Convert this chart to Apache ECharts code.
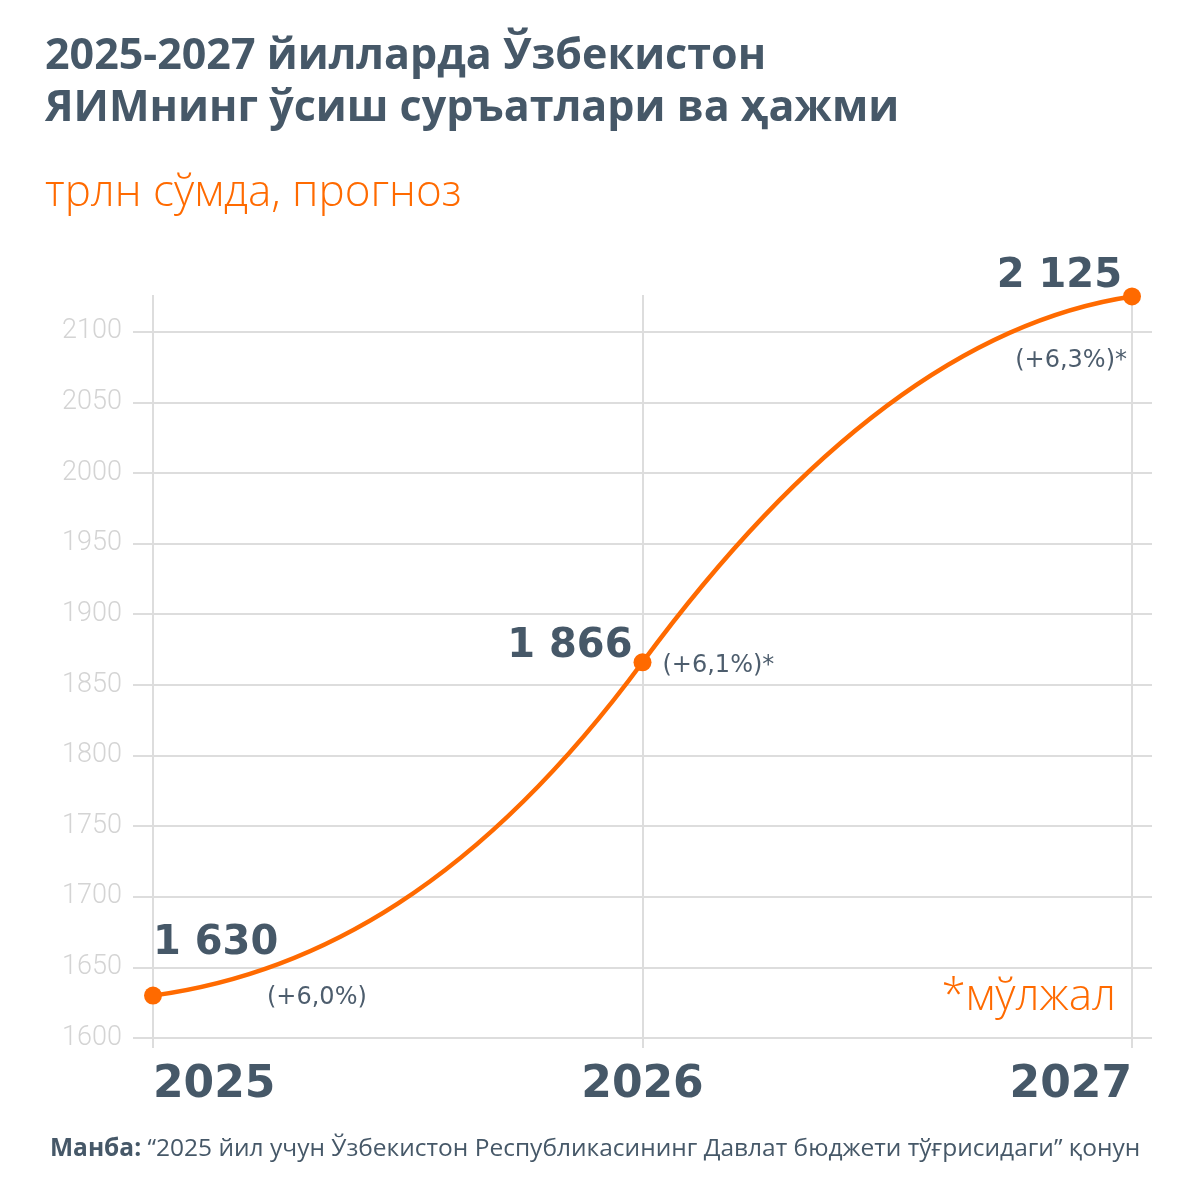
<!DOCTYPE html>
<html>
<head>
<meta charset="utf-8">
<script src="https://cdn.jsdelivr.net/npm/echarts@6/dist/echarts.min.js"></script>
<style>
html,body{margin:0;padding:0;background:#fff;}
#chart{width:1200px;height:1200px;}
</style>
</head>
<body>
<div id="chart"></div>
<script>
// ---- data ----
const years = ['2025', '2026', '2027'];
const gdp = [1630, 1866, 2125];
const growth = ['(+6,0%)', '(+6,1%)*', '(+6,3%)*'];
const yMin = 1600, yMax = 2126, yStep = 50;

const titleText = '2025-2027 йилларда Ўзбекистон\nЯИМнинг ўсиш суръатлари ва ҳажми';
const subtitleText = 'трлн сўмда, прогноз';
const noteText = '*мўлжал';
const sourceBold = 'Манба:';
const sourceText = ' “2025 йил учун Ўзбекистон Республикасининг Давлат бюджети тўғрисидаги” қонун';

// ---- styles ----
const ORANGE = '#ff6a00';
const DARK = '#465868';
const GRID = '#dddddd';
const numFont = 'DejaVu Sans';

function fmt(v) { return String(v).replace(/\B(?=(\d{3})+(?!\d))/g, ' '); }

const valueLabelLayout = [
  { align: 'left', offset: [0, -52] },
  { align: 'right', offset: [-10, -16] },
  { align: 'right', offset: [-10, -20] }
];
const growthLabelLayout = [
  { align: 'left', offset: [114, 2] },
  { align: 'left', offset: [20, 4] },
  { align: 'right', offset: [-5, 64] }
];

const MID_TENSION = 1.9, END_TENSION = 0.2;

const chart = echarts.init(document.getElementById('chart'), null, { renderer: 'canvas' });

const gridTop = 295, gridBottom = 162;

const option = {
  backgroundColor: '#fff',
  animation: false,
  title: [
    { text: titleText, left: 45, top: 31, padding: 0,
      textStyle: { fontFamily: 'Open Sans', fontWeight: 'bold', fontSize: 43, lineHeight: 52, color: DARK } },
    { text: subtitleText, left: 45, top: 171, padding: 0,
      textStyle: { fontFamily: 'Open Sans', fontWeight: 300, fontSize: 44, color: ORANGE } },
    { text: noteText, right: 84, top: 975, padding: 0,
      textStyle: { fontFamily: 'Open Sans', fontWeight: 300, fontSize: 44, color: ORANGE } },
    { text: '{b|' + sourceBold + '}{r|' + sourceText + '}', left: 50, top: 1137, padding: 0,
      textStyle: { rich: {
        b: { fontFamily: 'Open Sans', fontWeight: 'bold', fontSize: 24.5, color: DARK },
        r: { fontFamily: 'Open Sans', fontWeight: 'normal', fontSize: 24.5, color: DARK }
      } } }
  ],
  grid: [
    { left: 153, right: 68, top: gridTop, bottom: gridBottom },
    { left: 133, right: 48, top: gridTop, bottom: gridBottom }
  ],
  xAxis: [
    { type: 'category', gridIndex: 0, data: years, boundaryGap: false,
      axisLine: { show: false },
      axisTick: { show: true, length: 10, alignWithLabel: true, lineStyle: { color: GRID, width: 2 } },
      splitLine: { show: true, lineStyle: { color: GRID, width: 2 } },
      axisLabel: { fontFamily: numFont, fontWeight: 'bold', fontSize: 44, color: DARK, margin: 26,
        alignMinLabel: 'left', alignMaxLabel: 'right' } },
    { type: 'category', gridIndex: 1, data: years, show: false }
  ],
  yAxis: [
    { type: 'value', gridIndex: 0, min: yMin, max: yMax, interval: yStep,
      axisLine: { show: false }, axisTick: { show: false }, axisLabel: { show: false },
      splitLine: { show: false } },
    { type: 'value', gridIndex: 1, min: yMin, max: yMax, interval: yStep,
      axisLine: { show: false }, axisTick: { show: false },
      axisLabel: { fontFamily: 'Roboto', fontWeight: 300, fontSize: 27, color: '#d4d4d4', margin: 11, showMaxLabel: false,
        formatter: v => (v % yStep === 0 ? String(v) : '') },
      splitLine: { show: true, showMaxLine: false, lineStyle: { color: GRID, width: 2 } } }
  ],
  series: [
    {
      type: 'custom', xAxisIndex: 0, yAxisIndex: 0, z: 3,
      data: gdp.map((v, k) => [k, v]),
      encode: { x: 0, y: 1 },
      renderItem: function (params, api) {
        const i = params.dataIndex;
        if (i >= gdp.length - 1) return null;
        const P = gdp.map((v, k) => api.coord([k, v]));
        const seg = [];
        for (let k = 0; k < P.length - 1; k++) seg.push((P[k + 1][1] - P[k][1]) / (P[k + 1][0] - P[k][0]));
        const tan = k => k === 0 ? seg[0] * END_TENSION
          : (k === P.length - 1 ? seg[seg.length - 1] * END_TENSION : (seg[k - 1] + seg[k]) / 2 * MID_TENSION);
        const a = P[i], b = P[i + 1], h = b[0] - a[0];
        return {
          type: 'bezierCurve',
          shape: { x1: a[0], y1: a[1], x2: b[0], y2: b[1],
            cpx1: a[0] + h / 3, cpy1: a[1] + tan(i) * h / 3,
            cpx2: b[0] - h / 3, cpy2: b[1] - tan(i + 1) * h / 3 },
          style: { stroke: ORANGE, lineWidth: 4.5, fill: null, lineCap: 'round' }
        };
      }
    },
    {
      type: 'scatter', xAxisIndex: 0, yAxisIndex: 0, z: 4,
      symbol: 'circle', symbolSize: 18,
      itemStyle: { color: ORANGE, opacity: 1 },
      emphasis: { disabled: true },
      data: gdp.map((v, k) => ({
        value: [k, v],
        label: Object.assign({ show: true, position: 'inside', verticalAlign: 'middle',
          formatter: () => fmt(v), opacity: 1,
          fontFamily: numFont, fontWeight: 'bold', fontSize: 40, color: DARK }, valueLabelLayout[k])
      }))
    },
    {
      type: 'scatter', xAxisIndex: 0, yAxisIndex: 0, z: 5,
      symbolSize: 0, silent: true,
      itemStyle: { opacity: 1 },
      data: gdp.map((v, k) => ({
        value: [k, v],
        label: Object.assign({ show: true, position: 'inside', verticalAlign: 'middle',
          formatter: () => growth[k], opacity: 1,
          fontFamily: numFont, fontSize: 24, color: '#4d5d6d' }, growthLabelLayout[k])
      }))
    }
  ]
};
chart.setOption(option);
</script>
</body>
</html>
